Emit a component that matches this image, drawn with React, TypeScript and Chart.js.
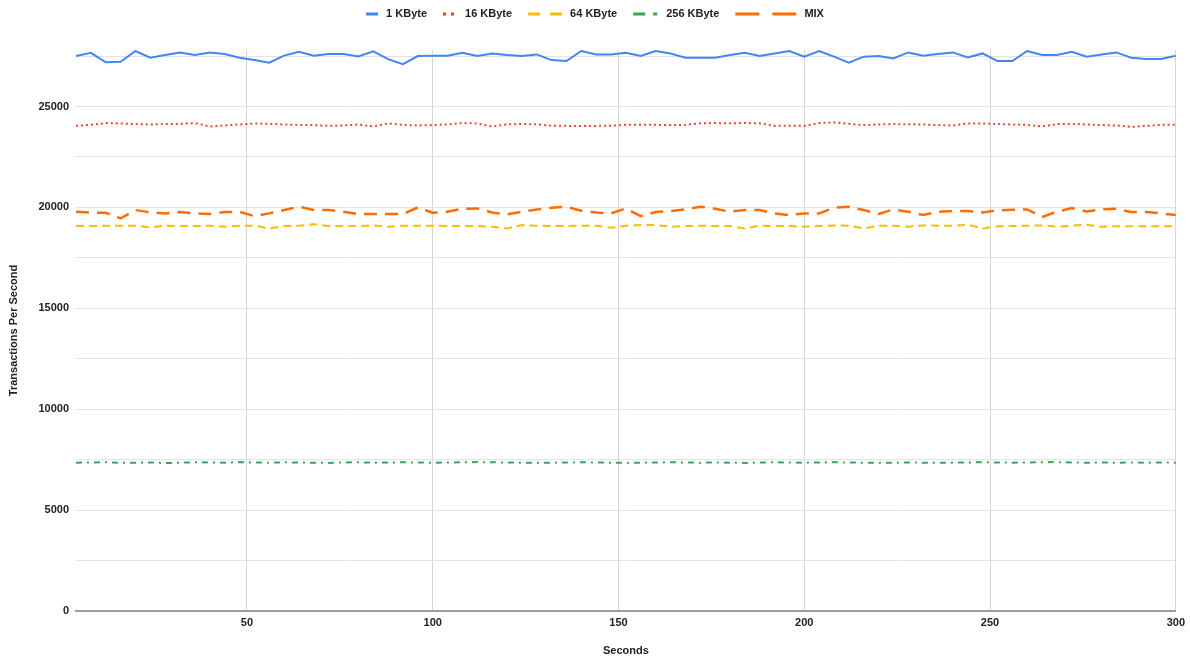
import { useEffect, useRef } from "react";
import { Chart, registerables } from "chart.js";

Chart.register(...registerables);

const seconds = [
  4, 8, 12, 16, 20, 24, 28, 32, 36, 40, 44, 48, 52, 56, 60, 64, 68, 72, 76, 80, 84, 88, 92, 96, 100,
  104, 108, 112, 116, 120, 124, 128, 132, 136, 140, 144, 148, 152, 156, 160, 164, 168, 172, 176, 180, 184, 188, 192, 196, 200,
  204, 208, 212, 216, 220, 224, 228, 232, 236, 240, 244, 248, 252, 256, 260, 264, 268, 272, 276, 280, 284, 288, 292, 296, 300,
];

const kbyte1 = [
  27500, 27660, 27190, 27220, 27750, 27420, 27550, 27680, 27550, 27680, 27600, 27420, 27300, 27170, 27520, 27710, 27520, 27600, 27600, 27480, 27730, 27350, 27100, 27500, 27520,
  27520, 27660, 27500, 27630, 27550, 27500, 27580, 27300, 27250, 27750, 27580, 27580, 27660, 27500, 27750, 27630, 27420, 27420, 27420, 27550, 27660, 27500, 27630, 27750, 27470,
  27750, 27470, 27170, 27470, 27500, 27380, 27680, 27520, 27600, 27680, 27430, 27630, 27250, 27250, 27750, 27550, 27550, 27710, 27470, 27580, 27680, 27420, 27350, 27350, 27520,
];

const kbyte16 = [
  24040, 24090, 24180, 24160, 24130, 24110, 24130, 24140, 24180, 24010, 24060, 24110, 24160, 24140, 24110, 24090, 24080, 24040, 24060, 24110, 24010, 24160, 24090, 24060, 24080, 24110,
  24180, 24160, 24010, 24120, 24130, 24120, 24050, 24040, 24030, 24040, 24050, 24090, 24100, 24090, 24080, 24090, 24170, 24180, 24170, 24180, 24170, 24040, 24050, 24040, 24180,
  24210, 24140, 24080, 24110, 24130, 24120, 24110, 24080, 24060, 24160, 24160, 24130, 24110, 24090, 24010, 24130, 24140, 24110, 24080, 24060, 23990, 24040, 24090, 24090,
];

const kbyte64 = [
  19076, 19076, 19092, 19092, 19092, 19010, 19092, 19076, 19076, 19092, 19043, 19092, 19092, 18960, 19076, 19092, 19159, 19076, 19076, 19076, 19109, 19043, 19092, 19092, 19092, 19076,
  19076, 19076, 19043, 18960, 19125, 19092, 19076, 19076, 19092, 19092, 18993, 19092, 19125, 19125, 19043, 19076, 19092, 19076, 19076, 18960, 19092, 19076, 19076, 19043, 19076,
  19109, 19092, 18960, 19092, 19092, 19043, 19109, 19092, 19092, 19142, 18960, 19060, 19076, 19092, 19109, 19043, 19092, 19142, 19043, 19060, 19060, 19060, 19060, 19060,
];

const kbyte256 = [
  7350, 7360, 7370, 7340, 7350, 7360, 7330, 7350, 7370, 7360, 7350, 7380, 7360, 7350, 7370, 7360, 7350, 7340, 7360, 7370, 7350, 7360, 7370, 7360, 7350,
  7360, 7370, 7380, 7370, 7360, 7350, 7340, 7350, 7360, 7370, 7360, 7350, 7340, 7350, 7360, 7370, 7360, 7350, 7360, 7350, 7340, 7360, 7370, 7360, 7350,
  7360, 7370, 7360, 7350, 7340, 7350, 7360, 7350, 7340, 7350, 7360, 7370, 7360, 7350, 7360, 7370, 7380, 7360, 7350, 7360, 7350, 7360, 7350, 7360, 7350,
];

const mix = [
  19785, 19736, 19736, 19455, 19868, 19752, 19703, 19770, 19703, 19670, 19770, 19785, 19570, 19703, 19868, 20033, 19868, 19868, 19785, 19670, 19670, 19670, 19670, 20000, 19736, 19785,
  19934, 19950, 19752, 19653, 19785, 19900, 19984, 20033, 19835, 19752, 19703, 19950, 19570, 19769, 19818, 19900, 20033, 19934, 19785, 19868, 19868, 19703, 19620, 19703, 19703,
  19984, 20033, 19868, 19670, 19900, 19785, 19620, 19785, 19818, 19818, 19752, 19851, 19884, 19900, 19521, 19785, 19967, 19802, 19900, 19934, 19769, 19769, 19703, 19620,
];

const seriesNames = ["1 KByte", "16 KByte", "64 KByte", "256 KByte", "MIX"];

// gridline values (labels shown every 5000)
const yGridValues = [0, 2500, 5000, 7500, 10000, 12500, 15000, 17500, 20000, 22500, 25000, 27500];
const yLabelValues = [0, 5000, 10000, 15000, 20000, 25000];
const xTickValues = [50, 100, 150, 200, 250, 300];

const FONT = "'Liberation Sans', Arial, sans-serif";

const styles = [
  { color: "#4285f4", dash: [] as number[], width: 2, legendDash: [] as number[], legendW: 12 },
  { color: "#ea4335", dash: [2, 3], width: 2, legendDash: [3, 5], legendW: 14 },
  { color: "#fbbc04", dash: [8, 5], width: 2, legendDash: [12, 10], legendW: 34 },
  { color: "#34a853", dash: [6, 5, 2, 5], width: 2, legendDash: [12, 8, 4, 8], legendW: 25 },
  { color: "#ff6d01", dash: [13, 8], width: 2.5, legendDash: [24, 13], legendW: 61 },
];

export default function App() {
  const ref = useRef<HTMLCanvasElement>(null);

  useEffect(() => {
    document.body.style.margin = "0";
    const values = [kbyte1, kbyte16, kbyte64, kbyte256, mix];

    const legendPlugin = {
      id: "customLegend",
      afterDraw(chart: any) {
        const ctx = chart.ctx as CanvasRenderingContext2D;
        ctx.save();
        ctx.font = `bold 11px ${FONT}`;
        const gapSample = 8;
        const gapItem = 16;
        const widths = seriesNames.map((n) => ctx.measureText(n).width);
        let total = 0;
        seriesNames.forEach((_, i) => {
          total += styles[i].legendW + gapSample + widths[i];
        });
        total += gapItem * (seriesNames.length - 1);
        let x = chart.width / 2 - total / 2;
        const y = 14;
        seriesNames.forEach((name, i) => {
          const s = styles[i];
          ctx.beginPath();
          ctx.setLineDash(s.legendDash);
          ctx.lineWidth = 3;
          ctx.lineCap = "butt";
          ctx.strokeStyle = s.color;
          ctx.moveTo(x, y);
          ctx.lineTo(x + s.legendW, y);
          ctx.stroke();
          ctx.setLineDash([]);
          x += s.legendW + gapSample;
          ctx.fillStyle = "#222";
          ctx.textBaseline = "middle";
          ctx.textAlign = "left";
          ctx.fillText(name, x, y);
          x += widths[i] + gapItem;
        });
        ctx.restore();
      },
    };

    const chart = new Chart(ref.current as HTMLCanvasElement, {
      type: "line",
      data: {
        datasets: seriesNames.map((name, i) => ({
          label: name,
          data: seconds.map((s, j) => ({ x: s, y: values[i][j] })),
          borderColor: styles[i].color,
          backgroundColor: styles[i].color,
          borderDash: styles[i].dash,
          borderWidth: styles[i].width,
          pointRadius: 0,
          tension: 0,
          fill: false,
        })),
      },
      options: {
        animation: false,
        responsive: true,
        maintainAspectRatio: false,
        layout: { padding: { top: 50, right: 14, left: 0, bottom: 0 } },
        plugins: {
          legend: { display: false },
          tooltip: { enabled: false },
        },
        scales: {
          x: {
            type: "linear",
            min: 4,
            max: 300,
            offset: false,
            afterBuildTicks: (scale: any) => {
              scale.ticks = xTickValues.map((v) => ({ value: v }));
            },
            afterFit: (scale: any) => {
              scale.height = 49;
            },
            ticks: {
              autoSkip: false,
              maxRotation: 0,
              padding: 5,
              color: "#222",
              font: { family: FONT, size: 11, weight: "bold" },
            },
            grid: { color: "#d6d6d6", drawTicks: false, lineWidth: 1 },
            border: { display: true, color: "#9e9e9e", width: 2 },
            title: {
              display: true,
              text: "Seconds",
              color: "#222",
              font: { family: FONT, size: 11, weight: "bold" },
              padding: { top: 0, bottom: 2.5 },
            },
          },
          y: {
            min: 0,
            max: 27800,
            afterBuildTicks: (scale: any) => {
              scale.ticks = yGridValues.map((v) => ({ value: v }));
            },
            afterFit: (scale: any) => {
              scale.width = 76;
            },
            ticks: {
              autoSkip: false,
              padding: 7,
              color: "#222",
              font: { family: FONT, size: 11, weight: "bold" },
              callback: (v: any) => (yLabelValues.includes(Number(v)) ? String(v) : ""),
            },
            grid: {
              drawTicks: false,
              color: (c: any) => (c.tick && c.tick.value === 0 ? "rgba(0,0,0,0)" : "#e3e3e3"),
            },
            border: { display: false },
            title: {
              display: true,
              text: "Transactions Per Second",
              color: "#222",
              font: { family: FONT, size: 11, weight: "bold" },
              padding: { top: 7.4, bottom: 0 },
            },
          },
        },
      },
      plugins: [legendPlugin],
    } as any);

    return () => chart.destroy();
  }, []);

  return (
    <div style={{ position: "absolute", left: 0, top: 0, width: 1190, height: 660 }}>
      <canvas ref={ref} />
    </div>
  );
}
